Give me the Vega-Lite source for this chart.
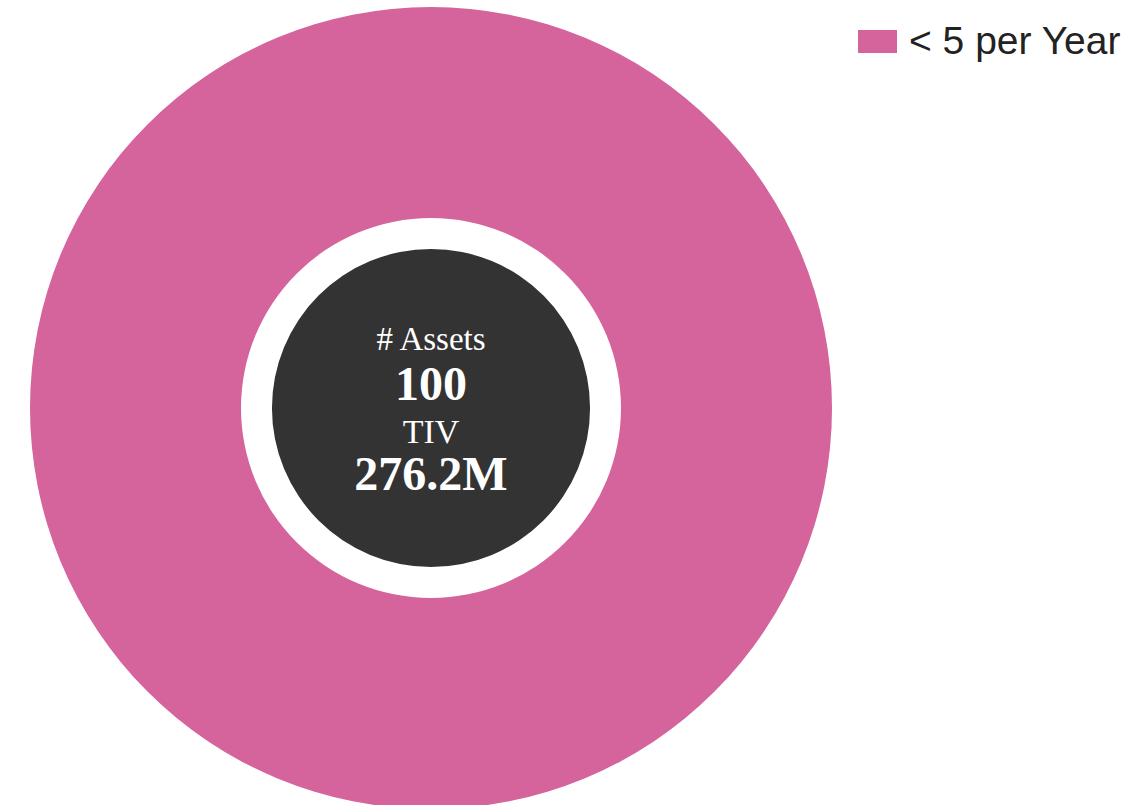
{
  "$schema": "https://vega.github.io/schema/vega-lite/v6.json",
  "width": 862,
  "height": 816,
  "padding": {"left": 0, "top": 0, "right": 276, "bottom": 0},
  "autosize": {"type": "none"},
  "background": "white",
  "config": {"view": {"stroke": null}},
  "datasets": {
    "slices": [{"category": "< 5 per Year", "assets": 100}],
    "center": [{"assets": 100, "tiv": "276.2M"}]
  },
  "layer": [
    {
      "data": {"name": "slices"},
      "mark": {"type": "arc", "outerRadius": 401, "innerRadius": 190},
      "encoding": {
        "theta": {"field": "assets", "type": "quantitative", "stack": true},
        "color": {
          "field": "category",
          "type": "nominal",
          "scale": {"range": ["#d5639c"]},
          "legend": {
            "title": null,
            "orient": "none",
            "legendX": 858,
            "legendY": 22,
            "padding": 0,
            "symbolType": "M-1,-0.59H1V0.59H-1Z",
            "symbolSize": 1521,
            "symbolStrokeWidth": 0,
            "symbolOpacity": 1,
            "labelFont": "Liberation Sans",
            "labelFontSize": 39,
            "labelColor": "#222222",
            "labelOffset": 12,
            "labelLimit": 400
          }
        }
      }
    },
    {
      "data": {"name": "center"},
      "mark": {"type": "arc", "outerRadius": 159, "innerRadius": 0, "color": "#333333"},
      "encoding": {
        "theta": {"field": "assets", "type": "quantitative", "stack": true}
      }
    },
    {
      "data": {"name": "center"},
      "mark": {"type": "text", "font": "Liberation Serif", "fontSize": 33, "color": "white", "baseline": "alphabetic", "align": "center", "dy": -58},
      "encoding": {"text": {"value": "# Assets"}}
    },
    {
      "data": {"name": "center"},
      "mark": {"type": "text", "font": "Liberation Serif", "fontSize": 48, "fontWeight": "bold", "color": "white", "baseline": "alphabetic", "align": "center", "dy": -8},
      "encoding": {"text": {"field": "assets", "type": "quantitative"}}
    },
    {
      "data": {"name": "center"},
      "mark": {"type": "text", "font": "Liberation Serif", "fontSize": 34, "color": "white", "baseline": "alphabetic", "align": "center", "dy": 35},
      "encoding": {"text": {"value": "TIV"}}
    },
    {
      "data": {"name": "center"},
      "mark": {"type": "text", "font": "Liberation Serif", "fontSize": 48, "fontWeight": "bold", "color": "white", "baseline": "alphabetic", "align": "center", "dy": 82},
      "encoding": {"text": {"field": "tiv", "type": "nominal"}}
    }
  ]
}
